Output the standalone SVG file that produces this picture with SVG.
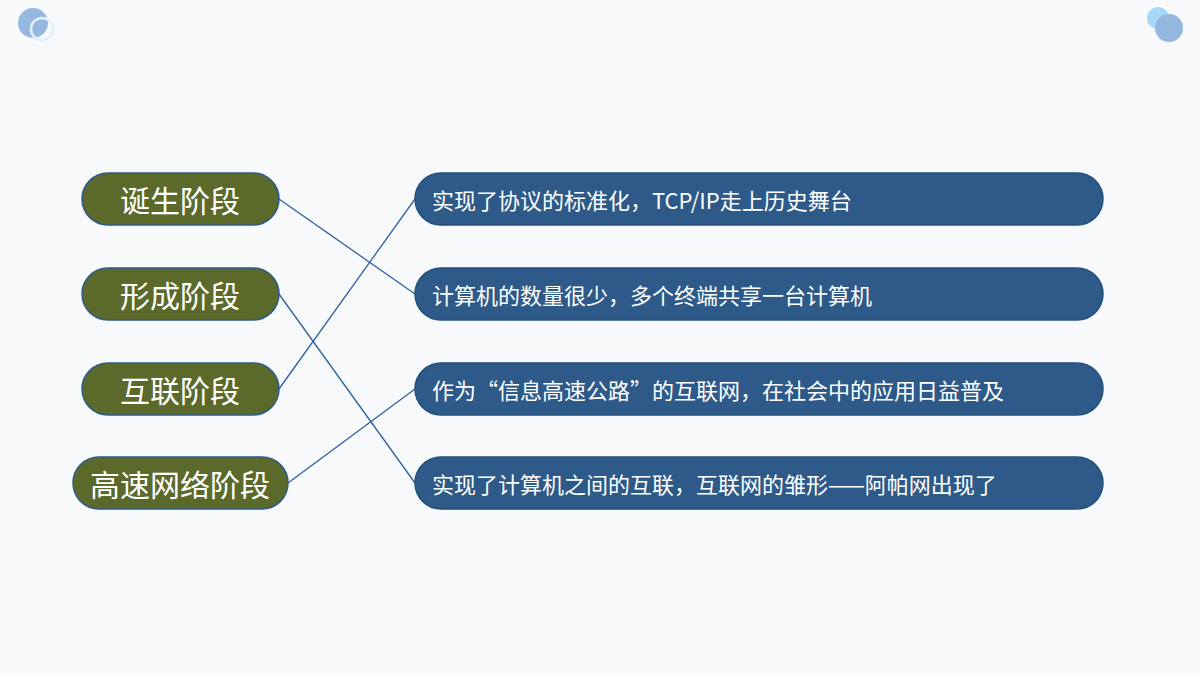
<svg xmlns="http://www.w3.org/2000/svg" width="1200" height="675" viewBox="0 0 1200 675">
<style>
.l{fill:#5b6a2a;stroke:#2d5a88;stroke-width:1.5}
.r{fill:#2d5a88;stroke:#24507c;stroke-width:1.5}
.lt{font-family:"Noto Sans CJK SC",sans-serif;font-size:30px;fill:#fff;text-anchor:middle;dominant-baseline:central}
.rt{font-family:"Noto Sans CJK SC",sans-serif;font-size:22px;fill:#fff;dominant-baseline:central}
.c line{stroke:#2d62a0;stroke-width:1.3}
</style>
<rect width="1200" height="675" fill="#f8f9fb"/>
<circle cx="33" cy="23" r="15" fill="#96b8e0"/>
<circle cx="42" cy="29" r="11" fill="none" stroke="#e0f0fc" stroke-width="2.5"/>
<circle cx="1158" cy="18" r="11" fill="#a8d8f5"/>
<circle cx="1169" cy="28" r="14" fill="#96b8e0"/>
<g class="c">
<line x1="279" y1="199" x2="415" y2="294"/>
<line x1="279" y1="294" x2="415" y2="483"/>
<line x1="279" y1="389" x2="415" y2="199"/>
<line x1="288" y1="483" x2="415" y2="389"/>
</g>
<g id="n1"><rect class="l" x="82" y="173" width="197" height="52" rx="26"/><text class="lt" x="180" y="199">诞生阶段</text></g>
<g id="n2"><rect class="l" x="82" y="268" width="197" height="52" rx="26"/><text class="lt" x="180" y="294">形成阶段</text></g>
<g id="n3"><rect class="l" x="82" y="363" width="197" height="52" rx="26"/><text class="lt" x="180" y="389">互联阶段</text></g>
<g id="n4"><rect class="l" x="73" y="457" width="215" height="52" rx="26"/><text class="lt" x="180" y="483">高速网络阶段</text></g>
<g id="r1"><rect class="r" x="415" y="173" width="688" height="52" rx="26"/><text class="rt" x="432" y="199">实现了协议的标准化，TCP/IP走上历史舞台</text></g>
<g id="r2"><rect class="r" x="415" y="268" width="688" height="52" rx="26"/><text class="rt" x="432" y="294">计算机的数量很少，多个终端共享一台计算机</text></g>
<g id="r3"><rect class="r" x="415" y="363" width="688" height="52" rx="26"/><text class="rt" x="432" y="389">作为“信息高速公路”的互联网，在社会中的应用日益普及</text></g>
<g id="r4"><rect class="r" x="415" y="457" width="688" height="52" rx="26"/><text class="rt" x="432" y="483">实现了计算机之间的互联，互联网的雏形——阿帕网出现了</text></g>
</svg>
